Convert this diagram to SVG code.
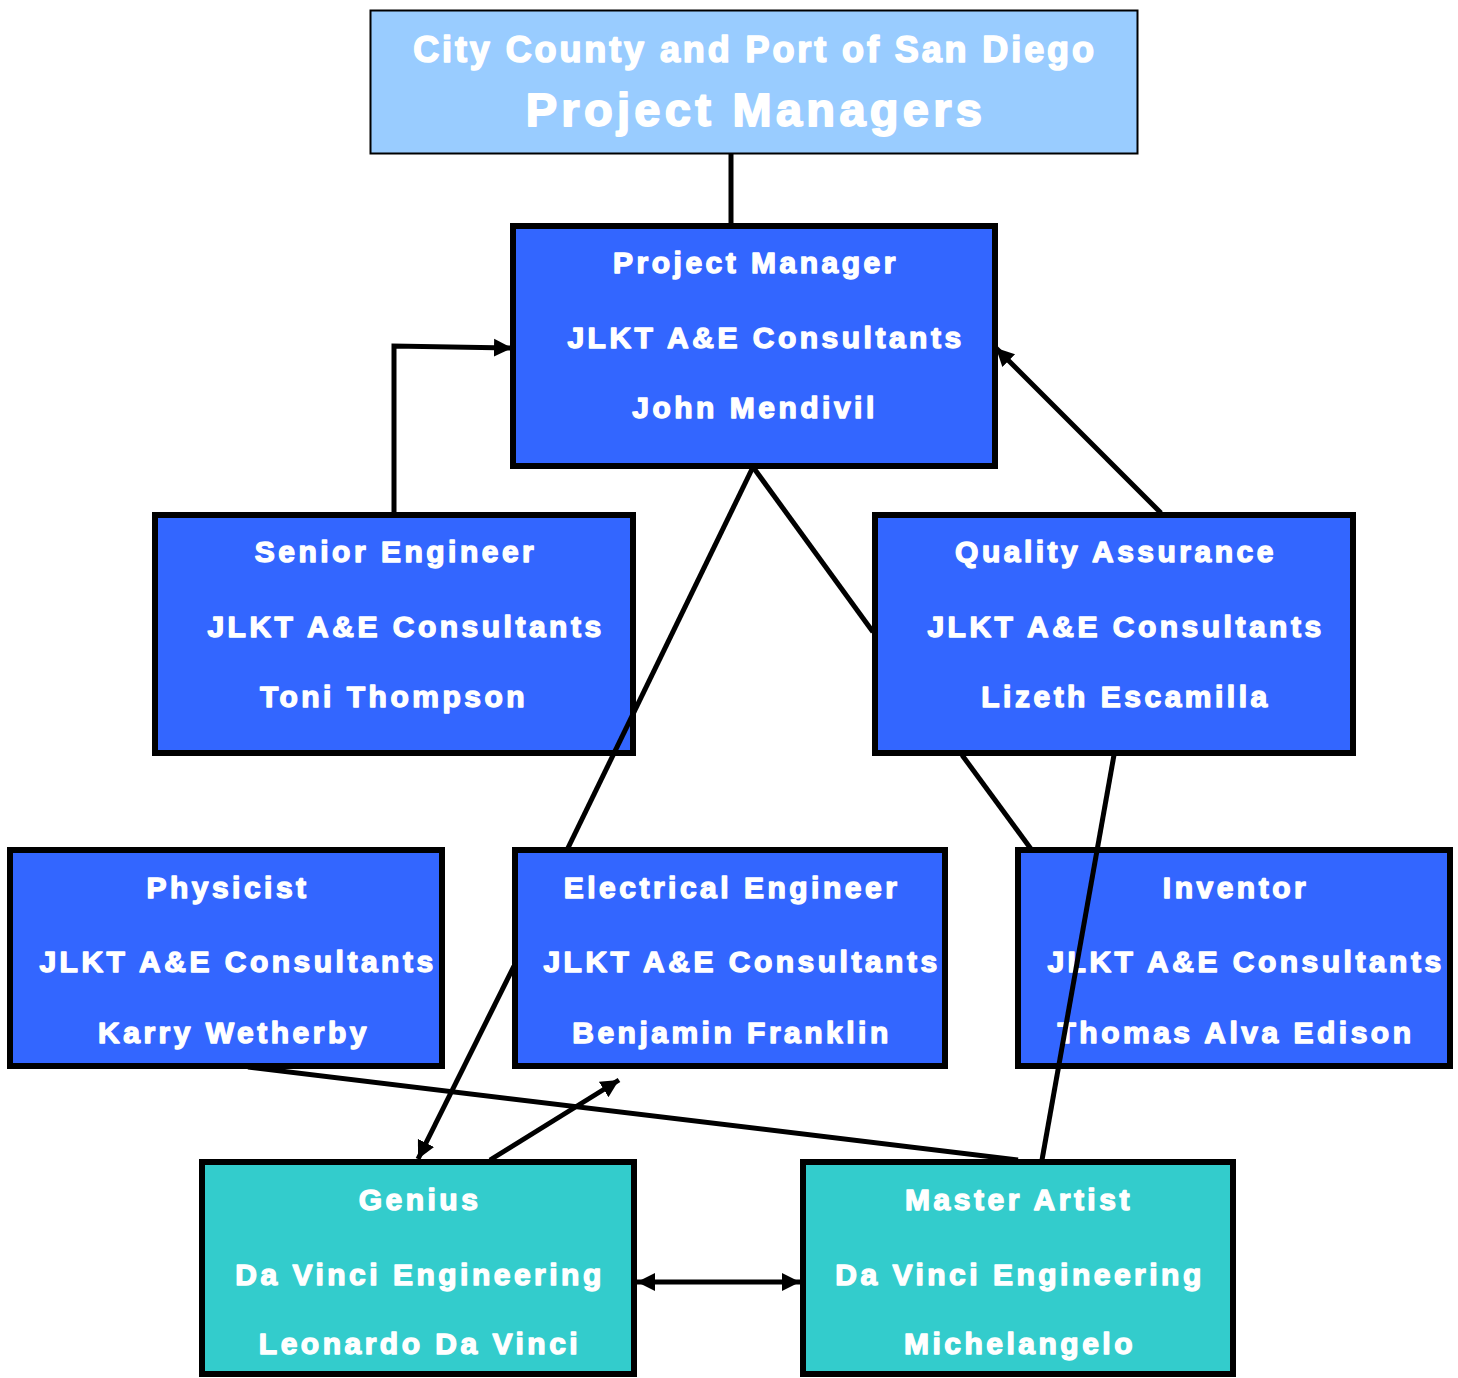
<svg xmlns="http://www.w3.org/2000/svg" width="1458" height="1378" viewBox="0 0 1458 1378">
<style>
  .top { fill: #99ccff; stroke: #000; stroke-width: 2; }
  .blue { fill: #3366ff; stroke: #000; stroke-width: 6; }
  .teal { fill: #33cccc; stroke: #000; stroke-width: 6; }
  text { font-family: "Liberation Sans", Arial, sans-serif; font-weight: bold; fill: #fff; stroke: #fff; stroke-width: 1.4px; stroke-linejoin: round; text-anchor: middle; }
  .t1 { font-size: 36px; letter-spacing: 2.9px; stroke-width: 1.6px; }
  .t2 { font-size: 47px; letter-spacing: 4.3px; stroke-width: 1.8px; }
  .n { font-size: 30px; letter-spacing: 3.5px; }
  .c { fill: none; stroke: #000; stroke-width: 5; }
</style>
<defs>
  <marker id="arr" markerUnits="userSpaceOnUse" markerWidth="19" markerHeight="20" refX="18" refY="10" orient="auto-start-reverse">
    <path d="M0,1 L18,10 L0,19 Z" fill="#000"/>
  </marker>
</defs>
<rect width="1458" height="1378" fill="#fff"/>
<g id="nodes">
  <g id="top">
    <rect class="top" x="370.5" y="10.5" width="767" height="143"/>
    <text class="t1" x="755" y="62">City County and Port of San Diego</text>
    <text class="t2" x="756" y="126">Project Managers</text>
  </g>
  <g id="pm">
    <rect class="blue" x="513" y="226" width="482" height="240"/>
    <text class="n" x="756" y="273">Project Manager</text>
    <text class="n" x="766" y="348">JLKT A&amp;E Consultants</text>
    <text class="n" x="755" y="418">John Mendivil</text>
  </g>
  <g id="se">
    <rect class="blue" x="155" y="515" width="478" height="238"/>
    <text class="n" x="396" y="562">Senior Engineer</text>
    <text class="n" x="406" y="637">JLKT A&amp;E Consultants</text>
    <text class="n" x="394" y="707">Toni Thompson</text>
  </g>
  <g id="qa">
    <rect class="blue" x="875" y="515" width="478" height="238"/>
    <text class="n" x="1116" y="562">Quality Assurance</text>
    <text class="n" x="1126" y="637">JLKT A&amp;E Consultants</text>
    <text class="n" x="1126" y="707">Lizeth Escamilla</text>
  </g>
  <g id="physicist">
    <rect class="blue" x="10" y="850" width="432" height="216"/>
    <text class="n" x="228" y="898">Physicist</text>
    <text class="n" x="238" y="972">JLKT A&amp;E Consultants</text>
    <text class="n" x="234" y="1043">Karry Wetherby</text>
  </g>
  <g id="ee">
    <rect class="blue" x="515" y="850" width="430" height="216"/>
    <text class="n" x="732" y="898">Electrical Engineer</text>
    <text class="n" x="742" y="972">JLKT A&amp;E Consultants</text>
    <text class="n" x="732" y="1043">Benjamin Franklin</text>
  </g>
  <g id="inventor">
    <rect class="blue" x="1018" y="850" width="432" height="216"/>
    <text class="n" x="1236" y="898">Inventor</text>
    <text class="n" x="1246" y="972">JLKT A&amp;E Consultants</text>
    <text class="n" x="1236" y="1043">Thomas Alva Edison</text>
  </g>
  <g id="genius">
    <rect class="teal" x="202" y="1162" width="432" height="212"/>
    <text class="n" x="420" y="1210">Genius</text>
    <text class="n" x="420" y="1285">Da Vinci Engineering</text>
    <text class="n" x="420" y="1354">Leonardo Da Vinci</text>
  </g>
  <g id="master">
    <rect class="teal" x="803" y="1162" width="430" height="212"/>
    <text class="n" x="1019" y="1210">Master Artist</text>
    <text class="n" x="1020" y="1285">Da Vinci Engineering</text>
    <text class="n" x="1020" y="1354">Michelangelo</text>
  </g>
</g>
<g id="connectors">
  <line class="c" x1="731" y1="154" x2="731" y2="226"/>
  <polyline class="c" points="394,515 394,346 512,348" marker-end="url(#arr)"/>
  <line class="c" x1="1161" y1="513" x2="996" y2="348" marker-end="url(#arr)"/>
  <line class="c" x1="753" y1="467" x2="567" y2="850"/>
  <line class="c" x1="753" y1="467" x2="873" y2="632"/>
  <line class="c" x1="962" y1="755" x2="1031" y2="849"/>
  <line class="c" x1="1114" y1="755" x2="1042" y2="1160"/>
  <line class="c" x1="248" y1="1067" x2="1018" y2="1160"/>
  <line class="c" x1="514" y1="966" x2="418" y2="1159" marker-end="url(#arr)"/>
  <line class="c" x1="490" y1="1160" x2="619" y2="1080" marker-end="url(#arr)"/>
  <line class="c" x1="637" y1="1282" x2="800" y2="1282" marker-start="url(#arr)" marker-end="url(#arr)"/>
</g>
</svg>
